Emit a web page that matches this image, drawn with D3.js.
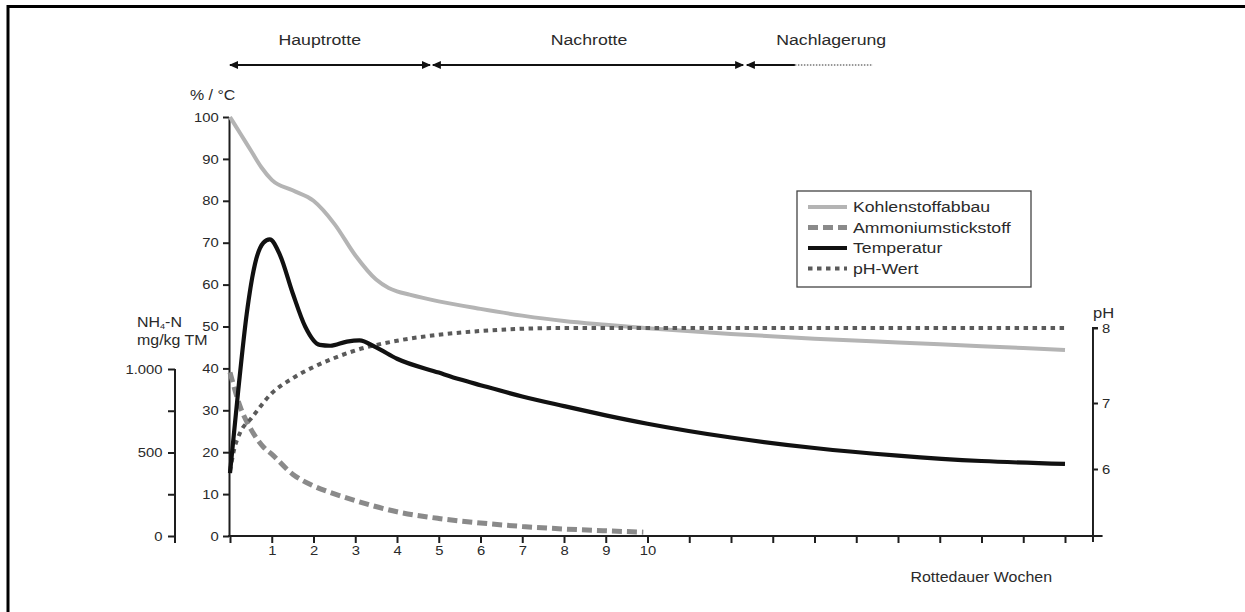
<!DOCTYPE html>
<html><head><meta charset="utf-8">
<script src="https://cdn.jsdelivr.net/npm/d3@7"></script>
<style>
html,body{margin:0;padding:0;background:#fff;}
svg{display:block;}
text{font-family:"Liberation Sans",Arial,sans-serif;fill:#2a2a2a;}
</style></head>
<body><svg id="chart" width="1245" height="612"></svg>
<script>
// ---- data ----
const weeksTicks = d3.range(0, 21);
const weekLabels = ["", "1","2","3","4","5","6","7","8","9","10","","","","","","","","","",""];
const yTicks = [0,10,20,30,40,50,60,70,80,90,100];
const nh4Ticks = [0,250,500,750,1000];
const nh4Labels = ["0","","500","","1.000"];
const phTicks = [6,7,8];

const carbonWeeks = [0,0.25,0.5,0.75,1,1.5,2,2.5,3,3.5,3.8,4,4.3,5,6,7,8,9,10,12,14,16,18,20];
const carbonVals  = [100,96,92,88,85,82.5,80,74.5,67,61.2,59.2,58.4,57.6,56,54.2,52.6,51.3,50.4,49.6,48.2,47.1,46.2,45.3,44.4];

const tempWeeks = [0,0.2,0.4,0.6,0.8,0.95,1.2,1.5,1.8,2.15,2.4,2.8,3.1,3.5,4,5,5.5,6,7,8,9,10,12,14,16,18,20];
const tempVals  = [15,35,53,65,70,70.8,67,58,50,45.6,45.4,46.4,46.7,45,42.3,39,37.4,36,33.3,31,28.8,26.8,23.5,21,19.2,17.9,17.2];

const nh4Weeks = [0,0.25,0.5,0.8,1,1.5,2,2.5,3,4,5,6,7,8,9,9.9];
const nh4Vals  = [980,770,640,533,490,370,300,252,212,145,105,78,57,42,31,23];

const phWeeks = [0,0.1,0.25,0.5,1,1.5,2,2.5,3,4,5,6,7,8,10,14,20];
const phVals  = [5.97,6.3,6.56,6.76,7.13,7.33,7.48,7.6,7.7,7.83,7.91,7.96,7.99,8.0,8.0,8.0,8.0];

const phases = ["Hauptrotte","Nachrotte","Nachlagerung"];
const phaseStart = [0, 4.86, 12.38];
const phaseEnd   = [4.79, 12.29, 13.53];
const phaseLabelAt = [2.15, 8.6, 14.4];
const phaseDottedEnd = 15.4;

const legendNames = ["Kohlenstoffabbau","Ammoniumstickstoff","Temperatur","pH-Wert"];

// ---- setup ----
const SX = 1.14;
const svg = d3.select("#chart");
const x = d3.scaleLinear().domain([0,20]).range([230,1065]);
const y = d3.scaleLinear().domain([0,100]).range([536,117]);
const yN = d3.scaleLinear().domain([0,1000]).range([536,369]);
const yP = d3.scaleLinear().domain([6,7,8]).range([469,403,328]);

const AX = "#1e1e1e";
const styles = {
  carbon:{stroke:"#b4b4b4", width:4, dash:null},
  nh4:{stroke:"#8a8a8a", width:5, dash:"10,5"},
  temp:{stroke:"#111", width:4.2, dash:null},
  ph:{stroke:"#5a5a5a", width:4, dash:"4.5,4.5"}
};

// frame
svg.append("path").attr("d","M8,620 V6.5 H1250").attr("fill","none").attr("stroke","#000").attr("stroke-width",3);

function txt(g, px, py, s, anchor, size){
  return g.append("text").attr("transform",`translate(${px},${py}) scale(${SX},1)`)
    .attr("text-anchor",anchor||"start").style("font-size",(size||13)+"px").text(s);
}

// axes
const yAxis = svg.append("g").attr("transform","translate(229,0)")
  .call(d3.axisLeft(y).tickValues(yTicks).tickSize(6).tickPadding(3).tickSizeOuter(0));
const nAxis = svg.append("g").attr("transform","translate(175,0)")
  .call(d3.axisLeft(yN).tickValues(nh4Ticks).tickFormat((d,i)=>nh4Labels[i]).tickSize(7).tickPadding(4).tickSizeOuter(0));
nAxis.select(".domain").remove();
nAxis.append("line").attr("x1",0).attr("x2",0).attr("y1",yN(1000)).attr("y2",yN(0)+7);

const xAxis = svg.append("g").attr("transform","translate(0,536)")
  .call(d3.axisBottom(x).tickValues(weeksTicks).tickFormat((d,i)=>weekLabels[i]).tickSize(7).tickPadding(3).tickSizeOuter(0));
xAxis.select(".domain").remove();
xAxis.append("line").attr("x1",x(0)-2).attr("x2",x(20.9)).attr("y1",0).attr("y2",0);

const pX = x(20.67);
const pAxis = svg.append("g").attr("transform",`translate(${pX},0)`)
  .call(d3.axisRight(yP).tickValues(phTicks).tickFormat(d3.format("d")).tickSize(5).tickPadding(3).tickSizeOuter(0));
pAxis.select(".domain").remove();
pAxis.append("line").attr("x1",0).attr("x2",0).attr("y1",yP(8)-1).attr("y2",y(0)+6);
pAxis.append("line").attr("x1",0).attr("x2",5).attr("y1",yP(8)).attr("y2",yP(8));

[yAxis,nAxis,xAxis,pAxis].forEach(a=>{
  a.selectAll("line,path").attr("stroke",AX).attr("stroke-width",2);
  a.selectAll("text").style("font-size","13px").style("font-family","'Liberation Sans',Arial,sans-serif")
    .attr("fill","#2a2a2a").attr("transform",`scale(${SX},1)`);
});

// axis titles
txt(svg, 190, 100, "% / °C", "start", 14);
const nh = svg.append("text").attr("transform",`translate(137,327) scale(${SX},1)`).style("font-size","14px");
nh.append("tspan").text("NH");
nh.append("tspan").attr("dy",2).style("font-size","8px").text("4");
nh.append("tspan").attr("dy",-2).text("-N");
txt(svg, 137, 345, "mg/kg TM", "start", 14);
txt(svg, pX, 318, "pH", "start", 14.5);
txt(svg, 1052, 582, "Rottedauer Wochen", "end", 14);

// phase arrows
const AY = 65;
function arrowHead(px, dir){
  svg.append("path").attr("d",`M${px},${AY} l${-dir*9},-4 v8 z`).attr("fill","#111");
}
phases.forEach((p,i)=>{
  const a = x(phaseStart[i]), b = x(phaseEnd[i]);
  svg.append("line").attr("x1",a).attr("x2",b).attr("y1",AY).attr("y2",AY).attr("stroke","#111").attr("stroke-width",2);
  arrowHead(a-1, -1);
  if(i<2) arrowHead(b+1, 1);
  txt(svg, x(phaseLabelAt[i]), 45, p, "middle", 15.5);
});
svg.append("line").attr("x1",x(phaseEnd[2])).attr("x2",x(phaseDottedEnd)).attr("y1",AY).attr("y2",AY)
  .attr("stroke","#333").attr("stroke-width",1.2).attr("stroke-dasharray","1.5,1.5");

// series
function draw(ws, vs, scale, st){
  const data = ws.map((w,i)=>[w,vs[i]]);
  svg.append("path").datum(data)
    .attr("d", d3.line().x(d=>x(d[0])).y(d=>scale(d[1])).curve(d3.curveMonotoneX))
    .attr("fill","none").attr("stroke",st.stroke).attr("stroke-width",st.width)
    .attr("stroke-dasharray",st.dash).attr("stroke-linejoin","round");
}
draw(carbonWeeks, carbonVals, y, styles.carbon);
draw(nh4Weeks, nh4Vals, yN, styles.nh4);
draw(phWeeks, phVals, yP, styles.ph);
draw(tempWeeks, tempVals, y, styles.temp);

// legend
const lg = svg.append("g");
lg.append("rect").attr("x",797).attr("y",191).attr("width",234).attr("height",96)
  .attr("fill","#fff").attr("stroke","#444").attr("stroke-width",1.3);
const lst = [styles.carbon, styles.nh4, styles.temp, styles.ph];
legendNames.forEach((n,i)=>{
  const ly = 207 + i*20.5;
  lg.append("line").attr("x1",808).attr("x2",847).attr("y1",ly).attr("y2",ly)
    .attr("stroke",lst[i].stroke).attr("stroke-width",lst[i].width).attr("stroke-dasharray",lst[i].dash);
  txt(lg, 853, ly+5, n, "start", 15.5);
});
</script></body></html>
